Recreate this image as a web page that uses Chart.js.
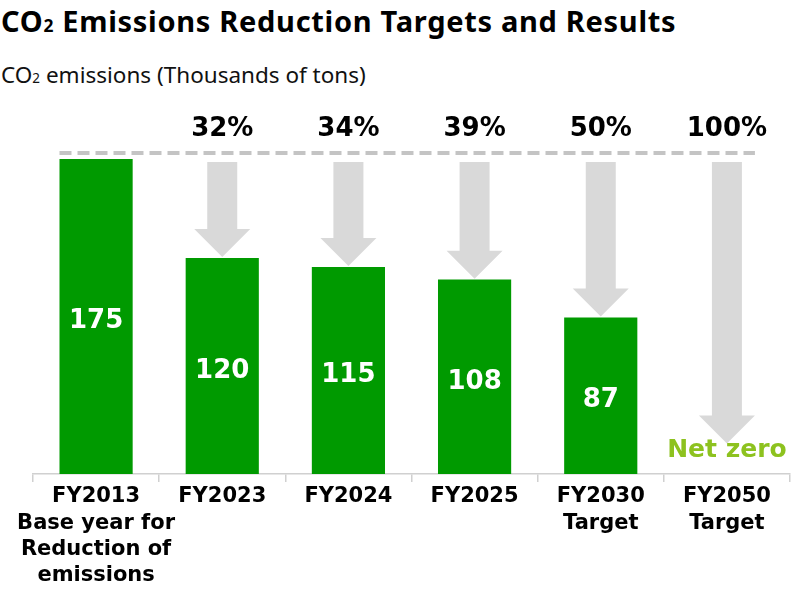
<!DOCTYPE html>
<html>
<head>
<meta charset="utf-8">
<script src="https://cdn.jsdelivr.net/npm/chart.js@4.4.0/dist/chart.umd.min.js"></script>
<style>
body{margin:0;background:#fff;width:800px;height:589px;overflow:hidden;position:relative;font-family:'Noto Sans',sans-serif}
#title{position:absolute;left:1px;top:1px;font-size:29px;letter-spacing:0.7px;font-weight:bold;color:#000;white-space:nowrap}
#sub{position:absolute;left:1px;top:59px;font-size:22.5px;color:#111;white-space:nowrap}
.s2{font-size:0.6em}
canvas{position:absolute;left:0;top:0}
</style>
</head>
<body>
<div id="title">CO<span class="s2">2</span> Emissions Reduction Targets and Results</div>
<div id="sub">CO<span class="s2">2</span> emissions (Thousands of tons)</div>
<canvas id="chart" width="800" height="589"></canvas>
<script>
// categories and values
var categories = [
    ['FY2013', 'Base year for', 'Reduction of', 'emissions'],
    'FY2023',
    'FY2024',
    'FY2025',
    ['FY2030', 'Target'],
    ['FY2050', 'Target']
];
var emissions = [175, 120, 115, 108, 87, 0];
var reductionLabels = ['', '32%', '34%', '39%', '50%', '100%'];
var arrowEnds = [null, 120.5, 115.5, 108.5, 87.5, 17];
var baseLevel = 178.3;
var netZeroLabel = 'Net zero';

var BOLD = "'DejaVu Sans', Verdana, sans-serif";

// dashed base line, arrows and labels
var overlayPlugin = {
    id: 'overlay',
    beforeDatasetsDraw: function(chart) {
        var ctx = chart.ctx, x = chart.scales.x, y = chart.scales.y;
        var meta = chart.getDatasetMeta(0);
        var lineY = y.getPixelForValue(baseLevel);
        var first = meta.data[0];
        ctx.save();
        // arrows
        ctx.fillStyle = '#d9d9d9';
        arrowEnds.forEach(function(v, i) {
            if (v === null) return;
            var cx = x.getPixelForValue(i);
            var top = lineY + 9;
            var tip = y.getPixelForValue(v);
            var headTop = tip - 28;
            ctx.beginPath();
            ctx.moveTo(cx - 15, top);
            ctx.lineTo(cx + 15, top);
            ctx.lineTo(cx + 15, headTop);
            ctx.lineTo(cx + 28, headTop);
            ctx.lineTo(cx, tip);
            ctx.lineTo(cx - 28, headTop);
            ctx.lineTo(cx - 15, headTop);
            ctx.closePath();
            ctx.fill();
        });
        // dashed line
        var lastX = x.getPixelForValue(categories.length - 1) + 28;
        ctx.strokeStyle = '#c4c4c4';
        ctx.lineWidth = 4;
        ctx.setLineDash([12, 6]);
        ctx.beginPath();
        ctx.moveTo(first.x - first.width / 2, lineY);
        ctx.lineTo(lastX, lineY);
        ctx.stroke();
        ctx.setLineDash([]);
        // percent labels
        ctx.fillStyle = '#000';
        ctx.font = 'bold 26px ' + BOLD;
        ctx.textAlign = 'center';
        ctx.textBaseline = 'middle';
        reductionLabels.forEach(function(t, i) {
            if (!t) return;
            ctx.fillText(t, x.getPixelForValue(i), lineY - 24);
        });
        ctx.restore();
    },
    afterDatasetsDraw: function(chart) {
        var ctx = chart.ctx, x = chart.scales.x, y = chart.scales.y;
        var meta = chart.getDatasetMeta(0);
        ctx.save();
        ctx.textAlign = 'center';
        ctx.textBaseline = 'middle';
        ctx.fillStyle = '#fff';
        ctx.font = 'bold 26px ' + BOLD;
        meta.data.forEach(function(bar, i) {
            if (!emissions[i]) return;
            ctx.fillText(String(emissions[i]), bar.x, (bar.y + bar.base) / 2 + 5);
        });
        // net zero
        var zi = emissions.length - 1;
        ctx.fillStyle = '#8dc21f';
        ctx.font = 'bold 25px ' + BOLD;
        ctx.fillText(netZeroLabel, x.getPixelForValue(zi), y.getPixelForValue(0) - 24);
        ctx.restore();
    }
};

var chart = new Chart(document.getElementById('chart'), {
    type: 'bar',
    data: {
        labels: categories,
        datasets: [{
            data: emissions,
            backgroundColor: '#009a00',
            borderWidth: 0,
            categoryPercentage: 1,
            barPercentage: 0.58
        }]
    },
    options: {
        responsive: false,
        animation: false,
        devicePixelRatio: 1,
        layout: {
            padding: { left: 33, right: 10, top: 114, bottom: 0 }
        },
        plugins: {
            legend: { display: false },
            tooltip: { enabled: false }
        },
        scales: {
            y: {
                display: false,
                min: 0,
                max: 200
            },
            x: {
                afterFit: function(scale) { scale.height = 115; },
                grid: {
                    offset: true,
                    drawOnChartArea: false,
                    drawTicks: true,
                    tickLength: 8,
                    color: '#d0d0d0',
                    lineWidth: 1.5
                },
                border: { display: true, color: '#d0d0d0', width: 1.5 },
                ticks: {
                    color: '#000',
                    padding: 2,
                    maxRotation: 0,
                    autoSkip: false,
                    font: { family: BOLD, weight: 'bold', size: 21, lineHeight: 1.24 }
                }
            }
        }
    },
    plugins: [overlayPlugin]
});
</script>
</body>
</html>
